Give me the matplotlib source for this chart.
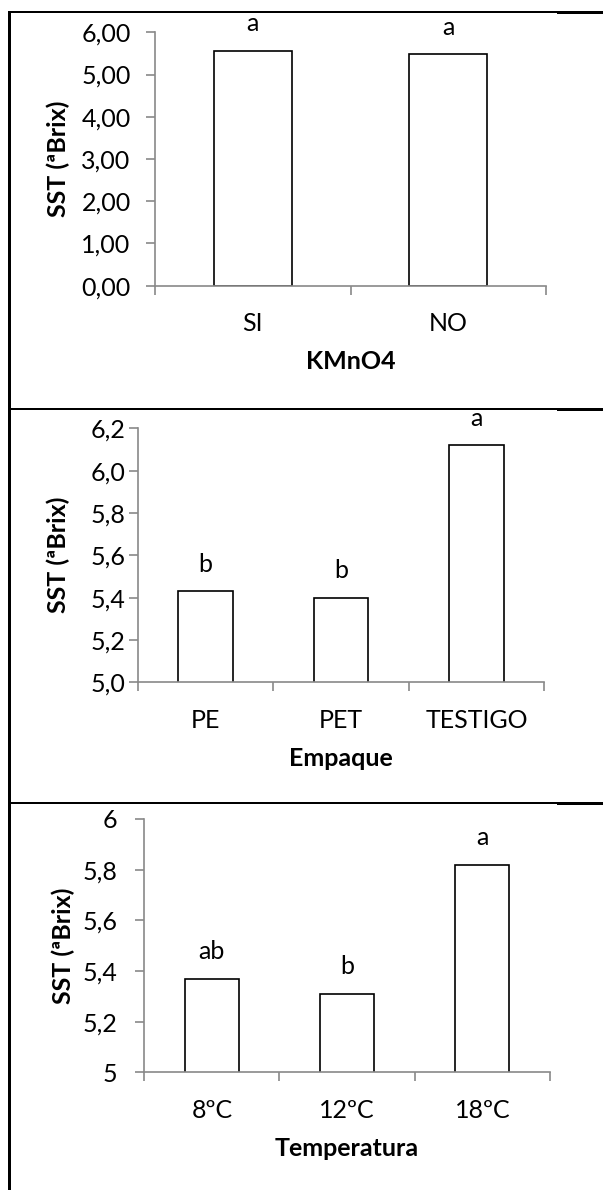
import matplotlib
matplotlib.use("Agg")
import matplotlib.pyplot as plt
from matplotlib.patches import Rectangle
from matplotlib.ticker import FuncFormatter, FixedLocator

plt.rcParams['font.family'] = ['Lato', 'DejaVu Sans']

# data
kmno4_cats = ['SI', 'NO']
kmno4_vals = [5.56, 5.48]
kmno4_letters = ['a', 'a']

empaque_cats = ['PE', 'PET', 'TESTIGO']
empaque_vals = [5.43, 5.40, 6.12]
empaque_letters = ['b', 'b', 'a']

temp_cats = ['8ºC', '12ºC', '18ºC']
temp_vals = [5.37, 5.31, 5.82]
temp_letters = ['ab', 'b', 'a']

W, H = 603, 1190
GRAY = '#898989'
FS = 18

fig = plt.figure(figsize=(W / 100, H / 100), dpi=100)


def px_axes(left, right, top, bottom):
	'axes from pixel box'
	return fig.add_axes([left / W, 1 - bottom / H, (right - left) / W, (bottom - top) / H])


def fmt_comma(dec):
	def f(v, pos):
		if dec is None:
			s = '{:g}'.format(round(v, 2))
		else:
			s = '{:.{}f}'.format(v, dec)
		return s.replace('.', ',')
	return FuncFormatter(f)


def panel(box, cats, vals, letters, ylim, yticks, dec, xlabel, ylab_x, ypad):
	ax = px_axes(*box)
	n = len(cats)
	xs = list(range(n))
	ax.bar(xs, vals, width=0.4, color='white', edgecolor='black', linewidth=1.2, zorder=1)
	for x, v, t in zip(xs, vals, letters):
		ax.annotate(t, (x, v), xytext=(0, 14), textcoords='offset points',
					ha='center', va='baseline', fontsize=FS)
	ax.set_xlim(-0.5, n - 0.5)
	ax.set_ylim(*ylim)
	ax.yaxis.set_major_locator(FixedLocator(yticks))
	ax.yaxis.set_major_formatter(fmt_comma(dec))
	# category boundary ticks, labels in the middle
	ax.xaxis.set_major_locator(FixedLocator([i - 0.5 for i in range(n + 1)]))
	ax.xaxis.set_major_formatter(FuncFormatter(lambda v, p: ''))
	ax.xaxis.set_minor_locator(FixedLocator(xs))
	ax.set_xticklabels(cats, minor=True)
	ax.tick_params(axis='x', which='major', direction='out', length=6.5, width=1.2, color=GRAY)
	ax.tick_params(axis='x', which='minor', length=0, pad=19, labelsize=FS)
	ax.tick_params(axis='y', direction='out', length=6.5, width=1.2, color=GRAY, pad=ypad, labelsize=FS)
	for s in ['top', 'right']:
		ax.spines[s].set_visible(False)
	for s in ['left', 'bottom']:
		ax.spines[s].set_color(GRAY)
		ax.spines[s].set_linewidth(1.2)
	ax.set_xlabel(xlabel, fontsize=FS, fontweight='bold', labelpad=11)
	ax.set_ylabel('SST (ªBrix)', fontsize=FS, fontweight='bold')
	left, right = box[0], box[1]
	ax.yaxis.set_label_coords((ylab_x + 12 - left) / (right - left), 0.5)
	return ax


panel((155, 546, 32.3, 285.7), kmno4_cats, kmno4_vals, kmno4_letters,
	  (0, 6), [0, 1, 2, 3, 4, 5, 6], 2, 'KMnO4', 57.7, 11)
panel((137.7, 544.2, 428.3, 682.3), empaque_cats, empaque_vals, empaque_letters,
	  (5.0, 6.2), [5.0, 5.2, 5.4, 5.6, 5.8, 6.0, 6.2], 1, 'Empaque', 57.7, 2)
panel((144.2, 550, 819, 1072.3), temp_cats, temp_vals, temp_letters,
	  (5, 6), [5, 5.2, 5.4, 5.6, 5.8, 6], None, 'Temperatura', 63.5, 13)

# table borders around the panels, as thin filled boxes (pixel units)
def fbox(x0, x1, y0, y1):
	fig.add_artist(Rectangle((x0 / W, 1 - y1 / H), (x1 - x0) / W, (y1 - y0) / H,
							 transform=fig.transFigure, facecolor='black',
							 edgecolor='none', zorder=10))

fbox(8, 11, 11, H)
for y in [12, 409, 803]:
	fbox(8, 557, y - 1, y + 1)
	fbox(557, W, y - 1.5, y + 1.5)

fig.savefig('out.png', dpi=100, facecolor='white')
